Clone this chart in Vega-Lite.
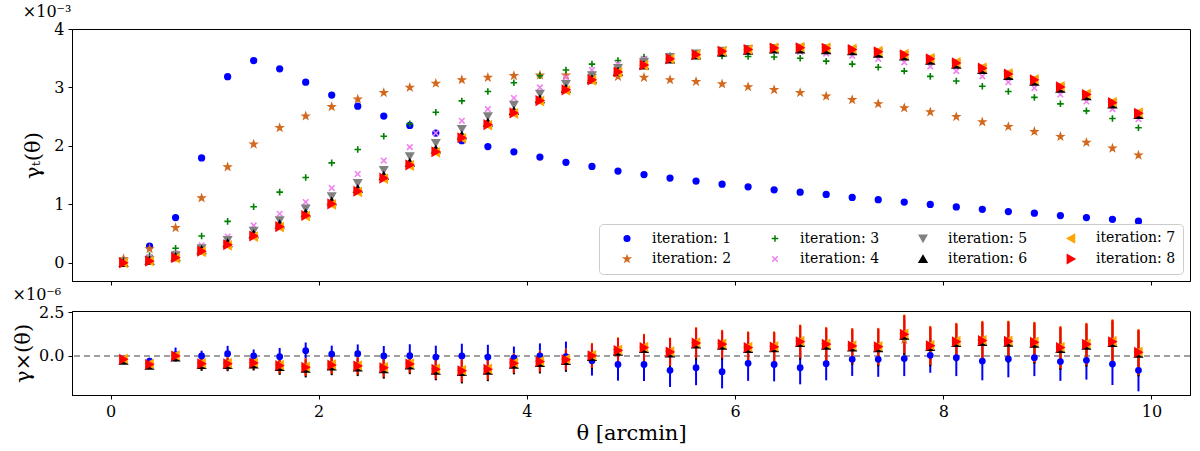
{
  "$schema": "https://vega.github.io/schema/vega-lite/v6.json",
  "background": "white",
  "padding": {"left": 12, "top": 3, "right": 9, "bottom": 0},
  "spacing": 0,
  "config": {
    "font": "DejaVu Serif",
    "view": {"stroke": "black", "strokeWidth": 1},
    "style": {"group-title": {"font": "DejaVu Serif", "fontSize": 16, "fontWeight": "normal", "color": "black"}},
    "axis": {
      "grid": false,
      "domainColor": "black",
      "tickColor": "black",
      "tickSize": 4,
      "labelFont": "DejaVu Serif",
      "labelFontSize": 16,
      "labelColor": "black",
      "labelPadding": 4,
      "titleFont": "DejaVu Serif",
      "titleFontSize": 21,
      "titleFontWeight": "normal",
      "titleColor": "black"
    },
    "legend": {
      "orient": "bottom-right",
      "offset": 7,
      "columns": 4,
      "padding": 7,
      "rowPadding": 5,
      "columnPadding": 22,
      "symbolOffset": 14,
      "labelFont": "DejaVu Serif",
      "labelFontSize": 14,
      "labelColor": "black",
      "labelOffset": 18,
      "labelLimit": 200,
      "strokeColor": "#cccccc",
      "fillColor": "white",
      "cornerRadius": 4,
      "symbolStrokeWidth": 1.5
    }
  },
  "datasets": {
    "top": [
      {"theta":0.125,"iteration":1,"gamma":0.03},{"theta":0.375,"iteration":1,"gamma":0.285},{"theta":0.625,"iteration":1,"gamma":0.775},{"theta":0.875,"iteration":1,"gamma":1.795},{"theta":1.125,"iteration":1,"gamma":3.185},{"theta":1.375,"iteration":1,"gamma":3.46},{"theta":1.625,"iteration":1,"gamma":3.32},{"theta":1.875,"iteration":1,"gamma":3.09},{"theta":2.125,"iteration":1,"gamma":2.87},{"theta":2.375,"iteration":1,"gamma":2.68},
      {"theta":2.625,"iteration":1,"gamma":2.51},{"theta":2.875,"iteration":1,"gamma":2.35},{"theta":3.125,"iteration":1,"gamma":2.22},{"theta":3.375,"iteration":1,"gamma":2.09},{"theta":3.625,"iteration":1,"gamma":1.99},{"theta":3.875,"iteration":1,"gamma":1.90},{"theta":4.125,"iteration":1,"gamma":1.81},{"theta":4.375,"iteration":1,"gamma":1.72},{"theta":4.625,"iteration":1,"gamma":1.65},{"theta":4.875,"iteration":1,"gamma":1.57},
      {"theta":5.125,"iteration":1,"gamma":1.51},{"theta":5.375,"iteration":1,"gamma":1.45},{"theta":5.625,"iteration":1,"gamma":1.40},{"theta":5.875,"iteration":1,"gamma":1.345},{"theta":6.125,"iteration":1,"gamma":1.30},{"theta":6.375,"iteration":1,"gamma":1.25},{"theta":6.625,"iteration":1,"gamma":1.21},{"theta":6.875,"iteration":1,"gamma":1.17},{"theta":7.125,"iteration":1,"gamma":1.12},{"theta":7.375,"iteration":1,"gamma":1.08},
      {"theta":7.625,"iteration":1,"gamma":1.04},{"theta":7.875,"iteration":1,"gamma":1.00},{"theta":8.125,"iteration":1,"gamma":0.957},{"theta":8.375,"iteration":1,"gamma":0.917},{"theta":8.625,"iteration":1,"gamma":0.877},{"theta":8.875,"iteration":1,"gamma":0.849},{"theta":9.125,"iteration":1,"gamma":0.809},{"theta":9.375,"iteration":1,"gamma":0.775},{"theta":9.625,"iteration":1,"gamma":0.746},{"theta":9.875,"iteration":1,"gamma":0.712},

      {"theta":0.125,"iteration":2,"gamma":0.07},{"theta":0.375,"iteration":2,"gamma":0.24},{"theta":0.625,"iteration":2,"gamma":0.60},{"theta":0.875,"iteration":2,"gamma":1.11},{"theta":1.125,"iteration":2,"gamma":1.64},{"theta":1.375,"iteration":2,"gamma":2.03},{"theta":1.625,"iteration":2,"gamma":2.31},{"theta":1.875,"iteration":2,"gamma":2.51},{"theta":2.125,"iteration":2,"gamma":2.67},{"theta":2.375,"iteration":2,"gamma":2.80},
      {"theta":2.625,"iteration":2,"gamma":2.91},{"theta":2.875,"iteration":2,"gamma":3.00},{"theta":3.125,"iteration":2,"gamma":3.07},{"theta":3.375,"iteration":2,"gamma":3.13},{"theta":3.625,"iteration":2,"gamma":3.17},{"theta":3.875,"iteration":2,"gamma":3.20},{"theta":4.125,"iteration":2,"gamma":3.21},{"theta":4.375,"iteration":2,"gamma":3.21},{"theta":4.625,"iteration":2,"gamma":3.20},{"theta":4.875,"iteration":2,"gamma":3.185},
      {"theta":5.125,"iteration":2,"gamma":3.17},{"theta":5.375,"iteration":2,"gamma":3.13},{"theta":5.625,"iteration":2,"gamma":3.10},{"theta":5.875,"iteration":2,"gamma":3.06},{"theta":6.125,"iteration":2,"gamma":3.01},{"theta":6.375,"iteration":2,"gamma":2.96},{"theta":6.625,"iteration":2,"gamma":2.91},{"theta":6.875,"iteration":2,"gamma":2.85},{"theta":7.125,"iteration":2,"gamma":2.79},{"theta":7.375,"iteration":2,"gamma":2.72},
      {"theta":7.625,"iteration":2,"gamma":2.65},{"theta":7.875,"iteration":2,"gamma":2.58},{"theta":8.125,"iteration":2,"gamma":2.50},{"theta":8.375,"iteration":2,"gamma":2.41},{"theta":8.625,"iteration":2,"gamma":2.33},{"theta":8.875,"iteration":2,"gamma":2.245},{"theta":9.125,"iteration":2,"gamma":2.16},{"theta":9.375,"iteration":2,"gamma":2.06},{"theta":9.625,"iteration":2,"gamma":1.96},{"theta":9.875,"iteration":2,"gamma":1.84},

      {"theta":0.125,"iteration":3,"gamma":0.04},{"theta":0.375,"iteration":3,"gamma":0.125},{"theta":0.625,"iteration":3,"gamma":0.25},{"theta":0.875,"iteration":3,"gamma":0.46},{"theta":1.125,"iteration":3,"gamma":0.71},{"theta":1.375,"iteration":3,"gamma":0.96},{"theta":1.625,"iteration":3,"gamma":1.21},{"theta":1.875,"iteration":3,"gamma":1.46},{"theta":2.125,"iteration":3,"gamma":1.71},{"theta":2.375,"iteration":3,"gamma":1.94},
      {"theta":2.625,"iteration":3,"gamma":2.165},{"theta":2.875,"iteration":3,"gamma":2.38},{"theta":3.125,"iteration":3,"gamma":2.575},{"theta":3.375,"iteration":3,"gamma":2.77},{"theta":3.625,"iteration":3,"gamma":2.93},{"theta":3.875,"iteration":3,"gamma":3.08},{"theta":4.125,"iteration":3,"gamma":3.20},{"theta":4.375,"iteration":3,"gamma":3.30},{"theta":4.625,"iteration":3,"gamma":3.40},{"theta":4.875,"iteration":3,"gamma":3.46},
      {"theta":5.125,"iteration":3,"gamma":3.52},{"theta":5.375,"iteration":3,"gamma":3.54},{"theta":5.625,"iteration":3,"gamma":3.555},{"theta":5.875,"iteration":3,"gamma":3.54},{"theta":6.125,"iteration":3,"gamma":3.53},{"theta":6.375,"iteration":3,"gamma":3.52},{"theta":6.625,"iteration":3,"gamma":3.50},{"theta":6.875,"iteration":3,"gamma":3.45},{"theta":7.125,"iteration":3,"gamma":3.40},{"theta":7.375,"iteration":3,"gamma":3.345},
      {"theta":7.625,"iteration":3,"gamma":3.28},{"theta":7.875,"iteration":3,"gamma":3.19},{"theta":8.125,"iteration":3,"gamma":3.11},{"theta":8.375,"iteration":3,"gamma":3.02},{"theta":8.625,"iteration":3,"gamma":2.93},{"theta":8.875,"iteration":3,"gamma":2.83},{"theta":9.125,"iteration":3,"gamma":2.72},{"theta":9.375,"iteration":3,"gamma":2.60},{"theta":9.625,"iteration":3,"gamma":2.47},{"theta":9.875,"iteration":3,"gamma":2.31},

      {"theta":0.125,"iteration":4,"gamma":0.04},{"theta":0.375,"iteration":4,"gamma":0.10},{"theta":0.625,"iteration":4,"gamma":0.16},{"theta":0.875,"iteration":4,"gamma":0.30},{"theta":1.125,"iteration":4,"gamma":0.45},{"theta":1.375,"iteration":4,"gamma":0.64},{"theta":1.625,"iteration":4,"gamma":0.84},{"theta":1.875,"iteration":4,"gamma":1.04},{"theta":2.125,"iteration":4,"gamma":1.28},{"theta":2.375,"iteration":4,"gamma":1.52},
      {"theta":2.625,"iteration":4,"gamma":1.75},{"theta":2.875,"iteration":4,"gamma":1.98},{"theta":3.125,"iteration":4,"gamma":2.22},{"theta":3.375,"iteration":4,"gamma":2.43},{"theta":3.625,"iteration":4,"gamma":2.63},{"theta":3.875,"iteration":4,"gamma":2.82},{"theta":4.125,"iteration":4,"gamma":3.00},{"theta":4.375,"iteration":4,"gamma":3.17},{"theta":4.625,"iteration":4,"gamma":3.30},{"theta":4.875,"iteration":4,"gamma":3.40},
      {"theta":5.125,"iteration":4,"gamma":3.49},{"theta":5.375,"iteration":4,"gamma":3.54},{"theta":5.625,"iteration":4,"gamma":3.59},{"theta":5.875,"iteration":4,"gamma":3.62},{"theta":6.125,"iteration":4,"gamma":3.63},{"theta":6.375,"iteration":4,"gamma":3.63},{"theta":6.625,"iteration":4,"gamma":3.61},{"theta":6.875,"iteration":4,"gamma":3.58},{"theta":7.125,"iteration":4,"gamma":3.54},{"theta":7.375,"iteration":4,"gamma":3.49},
      {"theta":7.625,"iteration":4,"gamma":3.43},{"theta":7.875,"iteration":4,"gamma":3.36},{"theta":8.125,"iteration":4,"gamma":3.28},{"theta":8.375,"iteration":4,"gamma":3.19},{"theta":8.625,"iteration":4,"gamma":3.09},{"theta":8.875,"iteration":4,"gamma":2.99},{"theta":9.125,"iteration":4,"gamma":2.88},{"theta":9.375,"iteration":4,"gamma":2.76},{"theta":9.625,"iteration":4,"gamma":2.63},{"theta":9.875,"iteration":4,"gamma":2.46},

      {"theta":0.125,"iteration":5,"gamma":0.01},{"theta":0.375,"iteration":5,"gamma":0.05},{"theta":0.625,"iteration":5,"gamma":0.13},{"theta":0.875,"iteration":5,"gamma":0.25},{"theta":1.125,"iteration":5,"gamma":0.39},{"theta":1.375,"iteration":5,"gamma":0.55},{"theta":1.625,"iteration":5,"gamma":0.73},{"theta":1.875,"iteration":5,"gamma":0.93},{"theta":2.125,"iteration":5,"gamma":1.14},{"theta":2.375,"iteration":5,"gamma":1.365},
      {"theta":2.625,"iteration":5,"gamma":1.59},{"theta":2.875,"iteration":5,"gamma":1.825},{"theta":3.125,"iteration":5,"gamma":2.05},{"theta":3.375,"iteration":5,"gamma":2.29},{"theta":3.625,"iteration":5,"gamma":2.51},{"theta":3.875,"iteration":5,"gamma":2.705},{"theta":4.125,"iteration":5,"gamma":2.895},{"theta":4.375,"iteration":5,"gamma":3.06},{"theta":4.625,"iteration":5,"gamma":3.21},{"theta":4.875,"iteration":5,"gamma":3.335},
      {"theta":5.125,"iteration":5,"gamma":3.435},{"theta":5.375,"iteration":5,"gamma":3.52},{"theta":5.625,"iteration":5,"gamma":3.58},{"theta":5.875,"iteration":5,"gamma":3.63},{"theta":6.125,"iteration":5,"gamma":3.66},{"theta":6.375,"iteration":5,"gamma":3.675},{"theta":6.625,"iteration":5,"gamma":3.68},{"theta":6.875,"iteration":5,"gamma":3.67},{"theta":7.125,"iteration":5,"gamma":3.64},{"theta":7.375,"iteration":5,"gamma":3.60},
      {"theta":7.625,"iteration":5,"gamma":3.55},{"theta":7.875,"iteration":5,"gamma":3.48},{"theta":8.125,"iteration":5,"gamma":3.41},{"theta":8.375,"iteration":5,"gamma":3.32},{"theta":8.625,"iteration":5,"gamma":3.22},{"theta":8.875,"iteration":5,"gamma":3.12},{"theta":9.125,"iteration":5,"gamma":3.00},{"theta":9.375,"iteration":5,"gamma":2.87},{"theta":9.625,"iteration":5,"gamma":2.73},{"theta":9.875,"iteration":5,"gamma":2.55},

      {"theta":0.125,"iteration":6,"gamma":0.0},{"theta":0.375,"iteration":6,"gamma":0.04},{"theta":0.625,"iteration":6,"gamma":0.10},{"theta":0.875,"iteration":6,"gamma":0.22},{"theta":1.125,"iteration":6,"gamma":0.34},{"theta":1.375,"iteration":6,"gamma":0.49},{"theta":1.625,"iteration":6,"gamma":0.66},{"theta":1.875,"iteration":6,"gamma":0.85},{"theta":2.125,"iteration":6,"gamma":1.05},{"theta":2.375,"iteration":6,"gamma":1.265},
      {"theta":2.625,"iteration":6,"gamma":1.49},{"theta":2.875,"iteration":6,"gamma":1.715},{"theta":3.125,"iteration":6,"gamma":1.94},{"theta":3.375,"iteration":6,"gamma":2.18},{"theta":3.625,"iteration":6,"gamma":2.40},{"theta":3.875,"iteration":6,"gamma":2.60},{"theta":4.125,"iteration":6,"gamma":2.80},{"theta":4.375,"iteration":6,"gamma":2.98},{"theta":4.625,"iteration":6,"gamma":3.14},{"theta":4.875,"iteration":6,"gamma":3.27},
      {"theta":5.125,"iteration":6,"gamma":3.38},{"theta":5.375,"iteration":6,"gamma":3.48},{"theta":5.625,"iteration":6,"gamma":3.55},{"theta":5.875,"iteration":6,"gamma":3.60},{"theta":6.125,"iteration":6,"gamma":3.63},{"theta":6.375,"iteration":6,"gamma":3.65},{"theta":6.625,"iteration":6,"gamma":3.65},{"theta":6.875,"iteration":6,"gamma":3.64},{"theta":7.125,"iteration":6,"gamma":3.62},{"theta":7.375,"iteration":6,"gamma":3.58},
      {"theta":7.625,"iteration":6,"gamma":3.53},{"theta":7.875,"iteration":6,"gamma":3.46},{"theta":8.125,"iteration":6,"gamma":3.39},{"theta":8.375,"iteration":6,"gamma":3.30},{"theta":8.625,"iteration":6,"gamma":3.20},{"theta":8.875,"iteration":6,"gamma":3.10},{"theta":9.125,"iteration":6,"gamma":2.98},{"theta":9.375,"iteration":6,"gamma":2.85},{"theta":9.625,"iteration":6,"gamma":2.71},{"theta":9.875,"iteration":6,"gamma":2.53},

      {"theta":0.125,"iteration":7,"gamma":0.0},{"theta":0.375,"iteration":7,"gamma":0.03},{"theta":0.625,"iteration":7,"gamma":0.08},{"theta":0.875,"iteration":7,"gamma":0.19},{"theta":1.125,"iteration":7,"gamma":0.30},{"theta":1.375,"iteration":7,"gamma":0.45},{"theta":1.625,"iteration":7,"gamma":0.61},{"theta":1.875,"iteration":7,"gamma":0.80},{"theta":2.125,"iteration":7,"gamma":1.00},{"theta":2.375,"iteration":7,"gamma":1.215},
      {"theta":2.625,"iteration":7,"gamma":1.44},{"theta":2.875,"iteration":7,"gamma":1.665},{"theta":3.125,"iteration":7,"gamma":1.89},{"theta":3.375,"iteration":7,"gamma":2.13},{"theta":3.625,"iteration":7,"gamma":2.355},{"theta":3.875,"iteration":7,"gamma":2.555},{"theta":4.125,"iteration":7,"gamma":2.765},{"theta":4.375,"iteration":7,"gamma":2.95},{"theta":4.625,"iteration":7,"gamma":3.12},{"theta":4.875,"iteration":7,"gamma":3.26},
      {"theta":5.125,"iteration":7,"gamma":3.38},{"theta":5.375,"iteration":7,"gamma":3.49},{"theta":5.625,"iteration":7,"gamma":3.56},{"theta":5.875,"iteration":7,"gamma":3.62},{"theta":6.125,"iteration":7,"gamma":3.65},{"theta":6.375,"iteration":7,"gamma":3.68},{"theta":6.625,"iteration":7,"gamma":3.69},{"theta":6.875,"iteration":7,"gamma":3.68},{"theta":7.125,"iteration":7,"gamma":3.66},{"theta":7.375,"iteration":7,"gamma":3.62},
      {"theta":7.625,"iteration":7,"gamma":3.57},{"theta":7.875,"iteration":7,"gamma":3.50},{"theta":8.125,"iteration":7,"gamma":3.43},{"theta":8.375,"iteration":7,"gamma":3.34},{"theta":8.625,"iteration":7,"gamma":3.24},{"theta":8.875,"iteration":7,"gamma":3.14},{"theta":9.125,"iteration":7,"gamma":3.02},{"theta":9.375,"iteration":7,"gamma":2.89},{"theta":9.625,"iteration":7,"gamma":2.75},{"theta":9.875,"iteration":7,"gamma":2.57},

      {"theta":0.125,"iteration":8,"gamma":0.0},{"theta":0.375,"iteration":8,"gamma":0.03},{"theta":0.625,"iteration":8,"gamma":0.09},{"theta":0.875,"iteration":8,"gamma":0.20},{"theta":1.125,"iteration":8,"gamma":0.31},{"theta":1.375,"iteration":8,"gamma":0.46},{"theta":1.625,"iteration":8,"gamma":0.62},{"theta":1.875,"iteration":8,"gamma":0.81},{"theta":2.125,"iteration":8,"gamma":1.01},{"theta":2.375,"iteration":8,"gamma":1.225},
      {"theta":2.625,"iteration":8,"gamma":1.45},{"theta":2.875,"iteration":8,"gamma":1.675},{"theta":3.125,"iteration":8,"gamma":1.90},{"theta":3.375,"iteration":8,"gamma":2.14},{"theta":3.625,"iteration":8,"gamma":2.365},{"theta":3.875,"iteration":8,"gamma":2.565},{"theta":4.125,"iteration":8,"gamma":2.775},{"theta":4.375,"iteration":8,"gamma":2.96},{"theta":4.625,"iteration":8,"gamma":3.13},{"theta":4.875,"iteration":8,"gamma":3.265},
      {"theta":5.125,"iteration":8,"gamma":3.385},{"theta":5.375,"iteration":8,"gamma":3.49},{"theta":5.625,"iteration":8,"gamma":3.56},{"theta":5.875,"iteration":8,"gamma":3.62},{"theta":6.125,"iteration":8,"gamma":3.65},{"theta":6.375,"iteration":8,"gamma":3.675},{"theta":6.625,"iteration":8,"gamma":3.68},{"theta":6.875,"iteration":8,"gamma":3.67},{"theta":7.125,"iteration":8,"gamma":3.65},{"theta":7.375,"iteration":8,"gamma":3.61},
      {"theta":7.625,"iteration":8,"gamma":3.56},{"theta":7.875,"iteration":8,"gamma":3.49},{"theta":8.125,"iteration":8,"gamma":3.42},{"theta":8.375,"iteration":8,"gamma":3.33},{"theta":8.625,"iteration":8,"gamma":3.23},{"theta":8.875,"iteration":8,"gamma":3.13},{"theta":9.125,"iteration":8,"gamma":3.01},{"theta":9.375,"iteration":8,"gamma":2.88},{"theta":9.625,"iteration":8,"gamma":2.74},{"theta":9.875,"iteration":8,"gamma":2.56}
    ],
    "bottom": [
      {"theta":0.125,"iteration":1,"gamma":-0.15,"err":0.12},{"theta":0.375,"iteration":1,"gamma":-0.30,"err":0.2},{"theta":0.625,"iteration":1,"gamma":0.08,"err":0.4},{"theta":0.875,"iteration":1,"gamma":0.0,"err":0.3},{"theta":1.125,"iteration":1,"gamma":0.13,"err":0.45},{"theta":1.375,"iteration":1,"gamma":0.0,"err":0.37},{"theta":1.625,"iteration":1,"gamma":-0.04,"err":0.5},{"theta":1.875,"iteration":1,"gamma":0.30,"err":0.47},{"theta":2.125,"iteration":1,"gamma":0.11,"err":0.48},{"theta":2.375,"iteration":1,"gamma":0.13,"err":0.53},
      {"theta":2.625,"iteration":1,"gamma":0.0,"err":0.57},{"theta":2.875,"iteration":1,"gamma":0.02,"err":0.65},{"theta":3.125,"iteration":1,"gamma":-0.06,"err":0.65},{"theta":3.375,"iteration":1,"gamma":0.0,"err":0.7},{"theta":3.625,"iteration":1,"gamma":-0.06,"err":0.7},{"theta":3.875,"iteration":1,"gamma":-0.11,"err":0.65},{"theta":4.125,"iteration":1,"gamma":0.0,"err":0.72},{"theta":4.375,"iteration":1,"gamma":-0.04,"err":0.86},{"theta":4.625,"iteration":1,"gamma":-0.27,"err":0.85},{"theta":4.875,"iteration":1,"gamma":-0.48,"err":0.93},
      {"theta":5.125,"iteration":1,"gamma":-0.48,"err":0.95},{"theta":5.375,"iteration":1,"gamma":-0.82,"err":0.95},{"theta":5.625,"iteration":1,"gamma":-0.67,"err":1.0},{"theta":5.875,"iteration":1,"gamma":-0.90,"err":0.95},{"theta":6.125,"iteration":1,"gamma":-0.42,"err":1.0},{"theta":6.375,"iteration":1,"gamma":-0.48,"err":0.97},{"theta":6.625,"iteration":1,"gamma":-0.67,"err":0.95},{"theta":6.875,"iteration":1,"gamma":-0.44,"err":0.95},{"theta":7.125,"iteration":1,"gamma":-0.19,"err":0.95},{"theta":7.375,"iteration":1,"gamma":-0.19,"err":1.0},
      {"theta":7.625,"iteration":1,"gamma":-0.15,"err":1.0},{"theta":7.875,"iteration":1,"gamma":0.04,"err":1.0},{"theta":8.125,"iteration":1,"gamma":-0.10,"err":1.05},{"theta":8.375,"iteration":1,"gamma":-0.29,"err":1.1},{"theta":8.625,"iteration":1,"gamma":-0.17,"err":1.05},{"theta":8.875,"iteration":1,"gamma":-0.10,"err":1.05},{"theta":9.125,"iteration":1,"gamma":-0.32,"err":1.1},{"theta":9.375,"iteration":1,"gamma":-0.25,"err":1.1},{"theta":9.625,"iteration":1,"gamma":-0.46,"err":1.2},{"theta":9.875,"iteration":1,"gamma":-0.82,"err":1.2},

      {"theta":0.125,"iteration":2,"gamma":-0.23,"err":0.1},{"theta":0.375,"iteration":2,"gamma":-0.52,"err":0.15},{"theta":0.625,"iteration":2,"gamma":-0.04,"err":0.2},{"theta":0.875,"iteration":2,"gamma":-0.48,"err":0.33},{"theta":1.125,"iteration":2,"gamma":-0.48,"err":0.35},{"theta":1.375,"iteration":2,"gamma":-0.44,"err":0.35},{"theta":1.625,"iteration":2,"gamma":-0.59,"err":0.45},{"theta":1.875,"iteration":2,"gamma":-0.69,"err":0.5},{"theta":2.125,"iteration":2,"gamma":-0.56,"err":0.5},{"theta":2.375,"iteration":2,"gamma":-0.61,"err":0.5},
      {"theta":2.625,"iteration":2,"gamma":-0.71,"err":0.55},{"theta":2.875,"iteration":2,"gamma":-0.50,"err":0.5},{"theta":3.125,"iteration":2,"gamma":-0.80,"err":0.55},{"theta":3.375,"iteration":2,"gamma":-0.88,"err":0.65},{"theta":3.625,"iteration":2,"gamma":-0.80,"err":0.6},{"theta":3.875,"iteration":2,"gamma":-0.46,"err":0.55},{"theta":4.125,"iteration":2,"gamma":-0.36,"err":0.6},{"theta":4.375,"iteration":2,"gamma":-0.25,"err":0.6},{"theta":4.625,"iteration":2,"gamma":-0.02,"err":0.7},{"theta":4.875,"iteration":2,"gamma":0.28,"err":0.72},
      {"theta":5.125,"iteration":2,"gamma":0.44,"err":0.76},{"theta":5.375,"iteration":2,"gamma":0.19,"err":0.8},{"theta":5.625,"iteration":2,"gamma":0.70,"err":0.88},{"theta":5.875,"iteration":2,"gamma":0.63,"err":0.8},{"theta":6.125,"iteration":2,"gamma":0.44,"err":0.9},{"theta":6.375,"iteration":2,"gamma":0.48,"err":0.86},{"theta":6.625,"iteration":2,"gamma":0.78,"err":0.95},{"theta":6.875,"iteration":2,"gamma":0.63,"err":0.96},{"theta":7.125,"iteration":2,"gamma":0.53,"err":1.0},{"theta":7.375,"iteration":2,"gamma":0.49,"err":1.05},
      {"theta":7.625,"iteration":2,"gamma":0.92,"err":1.1},{"theta":7.875,"iteration":2,"gamma":0.55,"err":1.1},{"theta":8.125,"iteration":2,"gamma":0.78,"err":1.05},{"theta":8.375,"iteration":2,"gamma":0.84,"err":1.1},{"theta":8.625,"iteration":2,"gamma":0.80,"err":1.15},{"theta":8.875,"iteration":2,"gamma":0.74,"err":1.15},{"theta":9.125,"iteration":2,"gamma":0.44,"err":1.2},{"theta":9.375,"iteration":2,"gamma":0.63,"err":1.2},{"theta":9.625,"iteration":2,"gamma":0.78,"err":1.25},{"theta":9.875,"iteration":2,"gamma":0.17,"err":1.3},

      {"theta":0.125,"iteration":6,"gamma":-0.27,"err":0.1},{"theta":0.375,"iteration":6,"gamma":-0.56,"err":0.15},{"theta":0.625,"iteration":6,"gamma":-0.08,"err":0.2},{"theta":0.875,"iteration":6,"gamma":-0.52,"err":0.33},{"theta":1.125,"iteration":6,"gamma":-0.52,"err":0.35},{"theta":1.375,"iteration":6,"gamma":-0.48,"err":0.35},{"theta":1.625,"iteration":6,"gamma":-0.63,"err":0.45},{"theta":1.875,"iteration":6,"gamma":-0.73,"err":0.5},{"theta":2.125,"iteration":6,"gamma":-0.60,"err":0.5},{"theta":2.375,"iteration":6,"gamma":-0.65,"err":0.5},
      {"theta":2.625,"iteration":6,"gamma":-0.75,"err":0.55},{"theta":2.875,"iteration":6,"gamma":-0.54,"err":0.5},{"theta":3.125,"iteration":6,"gamma":-0.84,"err":0.55},{"theta":3.375,"iteration":6,"gamma":-0.92,"err":0.65},{"theta":3.625,"iteration":6,"gamma":-0.84,"err":0.6},{"theta":3.875,"iteration":6,"gamma":-0.50,"err":0.55},{"theta":4.125,"iteration":6,"gamma":-0.40,"err":0.6},{"theta":4.375,"iteration":6,"gamma":-0.29,"err":0.6},{"theta":4.625,"iteration":6,"gamma":-0.06,"err":0.7},{"theta":4.875,"iteration":6,"gamma":0.24,"err":0.72},
      {"theta":5.125,"iteration":6,"gamma":0.40,"err":0.76},{"theta":5.375,"iteration":6,"gamma":0.15,"err":0.8},{"theta":5.625,"iteration":6,"gamma":0.66,"err":0.88},{"theta":5.875,"iteration":6,"gamma":0.59,"err":0.8},{"theta":6.125,"iteration":6,"gamma":0.40,"err":0.9},{"theta":6.375,"iteration":6,"gamma":0.44,"err":0.86},{"theta":6.625,"iteration":6,"gamma":0.74,"err":0.95},{"theta":6.875,"iteration":6,"gamma":0.59,"err":0.96},{"theta":7.125,"iteration":6,"gamma":0.49,"err":1.0},{"theta":7.375,"iteration":6,"gamma":0.45,"err":1.05},
      {"theta":7.625,"iteration":6,"gamma":1.16,"err":1.1},{"theta":7.875,"iteration":6,"gamma":0.51,"err":1.1},{"theta":8.125,"iteration":6,"gamma":0.74,"err":1.05},{"theta":8.375,"iteration":6,"gamma":0.80,"err":1.1},{"theta":8.625,"iteration":6,"gamma":0.76,"err":1.15},{"theta":8.875,"iteration":6,"gamma":0.70,"err":1.15},{"theta":9.125,"iteration":6,"gamma":0.40,"err":1.2},{"theta":9.375,"iteration":6,"gamma":0.59,"err":1.2},{"theta":9.625,"iteration":6,"gamma":0.74,"err":1.25},{"theta":9.875,"iteration":6,"gamma":0.13,"err":1.3},

      {"theta":0.125,"iteration":7,"gamma":-0.16,"err":0.1},{"theta":0.375,"iteration":7,"gamma":-0.45,"err":0.15},{"theta":0.625,"iteration":7,"gamma":0.03,"err":0.2},{"theta":0.875,"iteration":7,"gamma":-0.41,"err":0.33},{"theta":1.125,"iteration":7,"gamma":-0.41,"err":0.35},{"theta":1.375,"iteration":7,"gamma":-0.37,"err":0.35},{"theta":1.625,"iteration":7,"gamma":-0.52,"err":0.45},{"theta":1.875,"iteration":7,"gamma":-0.62,"err":0.5},{"theta":2.125,"iteration":7,"gamma":-0.49,"err":0.5},{"theta":2.375,"iteration":7,"gamma":-0.54,"err":0.5},
      {"theta":2.625,"iteration":7,"gamma":-0.64,"err":0.55},{"theta":2.875,"iteration":7,"gamma":-0.43,"err":0.5},{"theta":3.125,"iteration":7,"gamma":-0.73,"err":0.55},{"theta":3.375,"iteration":7,"gamma":-0.81,"err":0.65},{"theta":3.625,"iteration":7,"gamma":-0.73,"err":0.6},{"theta":3.875,"iteration":7,"gamma":-0.39,"err":0.55},{"theta":4.125,"iteration":7,"gamma":-0.29,"err":0.6},{"theta":4.375,"iteration":7,"gamma":-0.18,"err":0.6},{"theta":4.625,"iteration":7,"gamma":0.05,"err":0.7},{"theta":4.875,"iteration":7,"gamma":0.35,"err":0.72},
      {"theta":5.125,"iteration":7,"gamma":0.51,"err":0.76},{"theta":5.375,"iteration":7,"gamma":0.26,"err":0.8},{"theta":5.625,"iteration":7,"gamma":0.77,"err":0.88},{"theta":5.875,"iteration":7,"gamma":0.70,"err":0.8},{"theta":6.125,"iteration":7,"gamma":0.51,"err":0.9},{"theta":6.375,"iteration":7,"gamma":0.55,"err":0.86},{"theta":6.625,"iteration":7,"gamma":0.85,"err":0.95},{"theta":6.875,"iteration":7,"gamma":0.70,"err":0.96},{"theta":7.125,"iteration":7,"gamma":0.60,"err":1.0},{"theta":7.375,"iteration":7,"gamma":0.56,"err":1.05},
      {"theta":7.625,"iteration":7,"gamma":1.27,"err":1.1},{"theta":7.875,"iteration":7,"gamma":0.62,"err":1.1},{"theta":8.125,"iteration":7,"gamma":0.85,"err":1.05},{"theta":8.375,"iteration":7,"gamma":0.91,"err":1.1},{"theta":8.625,"iteration":7,"gamma":0.87,"err":1.15},{"theta":8.875,"iteration":7,"gamma":0.81,"err":1.15},{"theta":9.125,"iteration":7,"gamma":0.51,"err":1.2},{"theta":9.375,"iteration":7,"gamma":0.70,"err":1.2},{"theta":9.625,"iteration":7,"gamma":0.85,"err":1.25},{"theta":9.875,"iteration":7,"gamma":0.24,"err":1.3},

      {"theta":0.125,"iteration":8,"gamma":-0.19,"err":0.1},{"theta":0.375,"iteration":8,"gamma":-0.48,"err":0.15},{"theta":0.625,"iteration":8,"gamma":0.0,"err":0.2},{"theta":0.875,"iteration":8,"gamma":-0.44,"err":0.33},{"theta":1.125,"iteration":8,"gamma":-0.44,"err":0.35},{"theta":1.375,"iteration":8,"gamma":-0.40,"err":0.35},{"theta":1.625,"iteration":8,"gamma":-0.55,"err":0.45},{"theta":1.875,"iteration":8,"gamma":-0.65,"err":0.5},{"theta":2.125,"iteration":8,"gamma":-0.52,"err":0.5},{"theta":2.375,"iteration":8,"gamma":-0.57,"err":0.5},
      {"theta":2.625,"iteration":8,"gamma":-0.67,"err":0.55},{"theta":2.875,"iteration":8,"gamma":-0.46,"err":0.5},{"theta":3.125,"iteration":8,"gamma":-0.76,"err":0.55},{"theta":3.375,"iteration":8,"gamma":-0.84,"err":0.65},{"theta":3.625,"iteration":8,"gamma":-0.76,"err":0.6},{"theta":3.875,"iteration":8,"gamma":-0.42,"err":0.55},{"theta":4.125,"iteration":8,"gamma":-0.32,"err":0.6},{"theta":4.375,"iteration":8,"gamma":-0.21,"err":0.6},{"theta":4.625,"iteration":8,"gamma":0.02,"err":0.7},{"theta":4.875,"iteration":8,"gamma":0.32,"err":0.72},
      {"theta":5.125,"iteration":8,"gamma":0.48,"err":0.76},{"theta":5.375,"iteration":8,"gamma":0.23,"err":0.8},{"theta":5.625,"iteration":8,"gamma":0.74,"err":0.88},{"theta":5.875,"iteration":8,"gamma":0.67,"err":0.8},{"theta":6.125,"iteration":8,"gamma":0.48,"err":0.9},{"theta":6.375,"iteration":8,"gamma":0.52,"err":0.86},{"theta":6.625,"iteration":8,"gamma":0.82,"err":0.95},{"theta":6.875,"iteration":8,"gamma":0.67,"err":0.96},{"theta":7.125,"iteration":8,"gamma":0.57,"err":1.0},{"theta":7.375,"iteration":8,"gamma":0.53,"err":1.05},
      {"theta":7.625,"iteration":8,"gamma":1.24,"err":1.1},{"theta":7.875,"iteration":8,"gamma":0.59,"err":1.1},{"theta":8.125,"iteration":8,"gamma":0.82,"err":1.05},{"theta":8.375,"iteration":8,"gamma":0.88,"err":1.1},{"theta":8.625,"iteration":8,"gamma":0.84,"err":1.15},{"theta":8.875,"iteration":8,"gamma":0.78,"err":1.15},{"theta":9.125,"iteration":8,"gamma":0.48,"err":1.2},{"theta":9.375,"iteration":8,"gamma":0.67,"err":1.2},{"theta":9.625,"iteration":8,"gamma":0.82,"err":1.25},{"theta":9.875,"iteration":8,"gamma":0.21,"err":1.3}
    ]
  },
  "vconcat": [
    {
      "width": 1118,
      "height": 252,
      "title": {"text": "×10⁻³", "fontSize": 16, "anchor": "start", "offset": 1},
      "data": {"name": "top"},
      "mark": {"type": "point", "filled": false, "opacity": 1, "strokeWidth": 1.6},
      "encoding": {
        "x": {"field": "theta", "type": "quantitative", "scale": {"domain": [-0.37, 10.37], "nice": false, "zero": false}, "axis": {"values": [0, 2, 4, 6, 8, 10], "labels": false, "title": null}},
        "y": {"field": "gamma", "type": "quantitative", "scale": {"domain": [-0.31, 4.0], "nice": false, "zero": false}, "axis": {"values": [0, 1, 2, 3, 4], "format": "d", "title": "γₜ(θ)", "titlePadding": 10}},
        "color": {"field": "iteration", "type": "nominal", "scale": {"domain": [1, 2, 3, 4, 5, 6, 7, 8], "range": ["#0000ff", "#d2691e", "#008000", "#ee82ee", "#808080", "#000000", "#ffa500", "#ff0000"]}, "legend": {"title": null, "labelExpr": "'iteration: ' + datum.label"}},
        "fill": {"field": "iteration", "type": "nominal", "scale": {"domain": [1, 2, 3, 4, 5, 6, 7, 8], "range": ["#0000ff", "#d2691e", "transparent", "transparent", "#808080", "#000000", "#ffa500", "#ff0000"]}, "legend": {"title": null, "labelExpr": "'iteration: ' + datum.label"}},
        "shape": {"field": "iteration", "type": "nominal", "scale": {"domain": [1, 2, 3, 4, 5, 6, 7, 8], "range": ["circle", "M0,-1L0.235,-0.324L0.951,-0.309L0.38,0.124L0.588,0.809L0,0.4L-0.588,0.809L-0.38,0.124L-0.951,-0.309L-0.235,-0.324Z", "M-1,0L1,0M0,-1L0,1", "M-0.8,-0.8L0.8,0.8M-0.8,0.8L0.8,-0.8", "triangle-down", "triangle-up", "triangle-left", "triangle-right"]}, "legend": {"title": null, "labelExpr": "'iteration: ' + datum.label"}},
        "size": {"field": "iteration", "type": "nominal", "scale": {"domain": [1, 2, 3, 4, 5, 6, 7, 8], "range": [32, 70, 70, 100, 80, 70, 85, 90]}, "legend": {"title": null, "labelExpr": "'iteration: ' + datum.label"}}
      }
    },
    {
      "width": 1118,
      "height": 84,
      "title": {"text": "×10⁻⁶", "fontSize": 16, "anchor": "start", "offset": 1},
      "layer": [
        {
          "data": {"values": [{}]},
          "mark": {"type": "rule", "color": "#808080", "strokeDash": [6, 4], "strokeWidth": 1.5},
          "encoding": {"y": {"datum": 0, "type": "quantitative"}}
        },
        {
          "data": {"name": "bottom"},
          "mark": {"type": "errorbar", "thickness": 2},
          "encoding": {
            "x": {"field": "theta", "type": "quantitative"},
            "y": {"field": "gamma", "type": "quantitative"},
            "yError": {"field": "err"},
            "color": {"field": "iteration", "type": "nominal", "scale": {"domain": [1, 2, 3, 4, 5, 6, 7, 8], "range": ["#0000ff", "#d2691e", "#008000", "#ee82ee", "#808080", "#000000", "#ffa500", "#ff0000"]}, "legend": null}
          }
        },
        {
          "data": {"name": "bottom"},
          "mark": {"type": "point", "filled": false, "opacity": 1, "strokeWidth": 1.5},
          "encoding": {
            "x": {"field": "theta", "type": "quantitative"},
            "y": {"field": "gamma", "type": "quantitative"},
            "color": {"field": "iteration", "type": "nominal", "scale": {"domain": [1, 2, 3, 4, 5, 6, 7, 8], "range": ["#0000ff", "#d2691e", "#008000", "#ee82ee", "#808080", "#000000", "#ffa500", "#ff0000"]}, "legend": null},
            "fill": {"field": "iteration", "type": "nominal", "scale": {"domain": [1, 2, 3, 4, 5, 6, 7, 8], "range": ["#0000ff", "#d2691e", "transparent", "transparent", "#808080", "#000000", "#ffa500", "#ff0000"]}, "legend": null},
            "shape": {"field": "iteration", "type": "nominal", "scale": {"domain": [1, 2, 3, 4, 5, 6, 7, 8], "range": ["circle", "M0,-1L0.235,-0.324L0.951,-0.309L0.38,0.124L0.588,0.809L0,0.4L-0.588,0.809L-0.38,0.124L-0.951,-0.309L-0.235,-0.324Z", "M-1,0L1,0M0,-1L0,1", "M-0.8,-0.8L0.8,0.8M-0.8,0.8L0.8,-0.8", "triangle-down", "triangle-up", "triangle-left", "triangle-right"]}, "legend": null},
            "size": {"field": "iteration", "type": "nominal", "scale": {"domain": [1, 2, 3, 4, 5, 6, 7, 8], "range": [28, 70, 70, 100, 80, 70, 85, 90]}, "legend": null}
          }
        }
      ],
      "encoding": {
        "x": {"scale": {"domain": [-0.37, 10.37], "nice": false, "zero": false}, "axis": {"values": [0, 2, 4, 6, 8, 10], "format": "d", "title": "θ [arcmin]", "titlePadding": 3}},
        "y": {"scale": {"domain": [-2.23, 2.57], "nice": false, "zero": false}, "axis": {"values": [0, 2.5], "format": ".1f", "title": "γ×(θ)", "titlePadding": 5}}
      }
    }
  ],
  "resolve": {"scale": {"color": "independent", "fill": "independent", "shape": "independent", "size": "independent"}}
}
